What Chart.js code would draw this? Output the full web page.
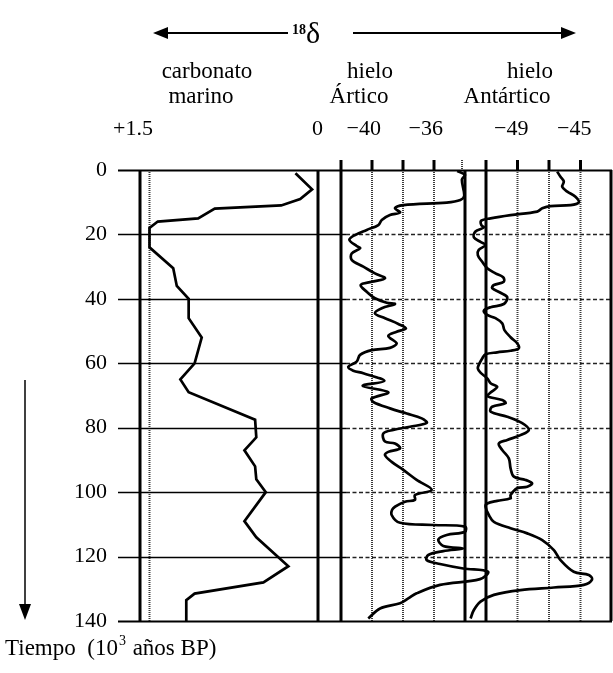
<!DOCTYPE html>
<html>
<head>
<meta charset="utf-8">
<script src="https://cdn.jsdelivr.net/npm/chart.js@4.4.1/dist/chart.umd.min.js"></script>
<style>
  html, body { margin: 0; padding: 0; background: #fff; }
  #wrap { width: 613px; height: 673px; position: relative; }
</style>
</head>
<body>
<div id="wrap"><canvas id="deltaChart"></canvas></div>
<script>
// time axis (10^3 years BP)
const timeTicks = [0, 20, 40, 60, 80, 100, 120, 140];

// marine carbonate d18O
const carbTime  = [1, 6, 9, 11, 12, 15, 16, 18, 24, 30.5, 36, 40, 46, 52, 60, 65, 69, 77.5, 83, 87, 92, 96, 100, 109, 114, 123, 128, 131.5, 133.5, 140];
const carbValue = [0.19, 0.05, 0.15, 0.31, 0.87, 1.01, 1.35, 1.42, 1.42, 1.22, 1.19, 1.09, 1.09, 0.98, 1.04, 1.16, 1.09, 0.53, 0.52, 0.62, 0.53, 0.52, 0.44, 0.62, 0.52, 0.25, 0.46, 1.04, 1.11, 1.11];
const carbRef = 1.42;

// arctic ice d18O
const arcTime  = [0.3, 1.5, 3, 8, 9.3, 10.1, 10.9, 11.9, 13.2, 14, 15.5, 17.1, 18.6, 20.2, 21.7, 23.6, 24.3, 25.9, 27.9, 30, 32.1, 33.6, 34.7, 35.7, 37.8, 39.8, 41.2, 41.6, 42.9, 44.5, 46, 47.8, 49.2, 50.2, 51.5, 53.8, 55.2, 55.9, 57.4, 59.5, 61.1, 62.3, 63.1, 65.5, 67, 69, 70.9, 72, 74, 75.6, 77.1, 78.5, 79.7, 80.7, 81.8, 84.3, 84.9, 86.4, 87.5, 88.5, 90.6, 93.1, 96.2, 99.3, 100.9, 102.4, 103, 105, 107.1, 109.5, 110.2, 110.7, 112.3, 113.3, 114.7, 116.7, 117.5, 118.3, 119.5, 121.1, 122.3, 123.7, 124.7, 127, 128.8, 131.4, 133, 134.5, 136.1, 139.2];
const arcValue = [-34.5, -34.0, -34.2, -34.05, -34.3, -35.18, -37.98, -38.52, -38.19, -38.84, -39.37, -39.59, -40.34, -41.1, -41.46, -40.99, -40.77, -41.31, -41.31, -40.56, -39.81, -39.16, -40.02, -40.73, -40.34, -39.81, -39.05, -38.52, -39.37, -39.81, -39.16, -38.3, -37.81, -38.41, -38.95, -38.41, -38.84, -40.02, -40.77, -40.99, -41.53, -41.21, -40.56, -39.2, -40.6, -38.95, -40.02, -39.92, -38.84, -37.76, -36.79, -36.47, -37.55, -38.63, -39.27, -39.16, -38.52, -38.19, -38.95, -39.16, -38.73, -37.98, -37.12, -36.15, -37.23, -37.23, -37.87, -38.63, -38.73, -38.19, -36.05, -34.0, -34.0, -35.18, -35.72, -35.4, -34.11, -35.4, -36.37, -36.47, -35.61, -34.11, -32.52, -33.03, -35.61, -37.12, -37.66, -38.19, -39.48, -40.24];

// antarctic ice d18O
const antTime  = [0.5, 2.1, 3.6, 5.2, 6.7, 8.3, 10.1, 10.9, 11.2, 11.9, 12.9, 14, 15, 15.7, 17.1, 17.8, 19.1, 20.9, 22.3, 23.3, 24.8, 26.4, 28.5, 30.5, 32.1, 33.3, 34.7, 35.7, 36.7, 38.1, 39.5, 41.6, 42.6, 43.7, 45, 46, 47.6, 49.7, 51.9, 53.8, 55.4, 56.1, 56.6, 57.2, 58.5, 60.5, 61.6, 62.9, 64.7, 66.2, 67.3, 69.1, 70.2, 71.4, 72.4, 73.5, 75, 76.6, 78.6, 80.7, 82.3, 83.8, 84.9, 86.9, 89.5, 92.6, 95.2, 96.2, 97.3, 98.3, 98.8, 100.9, 101.9, 102.7, 103.5, 104.5, 107.1, 109.2, 111.2, 112.8, 114.9, 118, 121.1, 124.7, 125.7, 127.1, 128.8, 129.6, 130.4, 131.9, 134, 136.6, 139.2];
const antValue = [-46.48, -46.27, -46.06, -46.16, -45.84, -45.32, -45.11, -45.63, -46.9, -47.43, -47.75, -49.44, -50.71, -51.3, -51.3, -51.14, -51.67, -51.77, -51.35, -51.03, -51.46, -51.52, -51.24, -50.92, -50.4, -49.91, -49.87, -50.5, -50.61, -50.08, -49.65, -49.87, -50.71, -51.14, -50.92, -50.4, -49.97, -49.83, -49.44, -49.02, -48.92, -49.44, -50.29, -51.03, -51.24, -51.46, -51.52, -51.35, -50.92, -50.71, -50.29, -50.71, -50.92, -49.97, -49.76, -50.61, -50.71, -49.65, -48.7, -48.28, -48.81, -49.65, -50.19, -49.97, -49.55, -49.44, -49.23, -48.49, -48.07, -48.38, -49.02, -49.44, -49.44, -50.29, -50.92, -51.03, -50.82, -50.5, -49.44, -48.38, -47.43, -46.69, -46.27, -45.43, -44.47, -44.26, -44.79, -46.69, -48.81, -50.5, -51.35, -51.77, -51.98];

// panel frames and ticks (axis units)
const carbFrame = [1.5, 0];
const arcFrame = [-42, -34];
const arcTicks = [-40, -38, -36];
const antFrame = [-51, -43];
const antTicks = [-49, -47, -45];
const carbLabels = ['+1.5', '0'];
const arcLabels = ['−40', '−36'];
const antLabels = ['−49', '−45'];

function pts(ts, vs) {
    return ts.map((t, i) => ({x: vs[i], y: t}));
}

const serif = "'Liberation Serif', 'Times New Roman', serif";

const decor = {
    id: 'decor',
    beforeDatasetsDraw(chart) {
        const ctx = chart.ctx;
        const a = chart.chartArea;
        const y = chart.scales.y, xc = chart.scales.xc, xa = chart.scales.xa, xn = chart.scales.xn;
        const top = y.getPixelForValue(0), bot = y.getPixelForValue(140);
        function seg(x1, y1, x2, y2) {
            ctx.beginPath(); ctx.moveTo(x1, y1); ctx.lineTo(x2, y2); ctx.stroke();
        }
        ctx.save();

        // dotted lines inside the panels
        ctx.strokeStyle = '#3a3a3a';
        ctx.lineWidth = 2;
        ctx.setLineDash([1, 1]);
        seg(xc.getPixelForValue(carbRef), top, xc.getPixelForValue(carbRef), bot);
        arcTicks.forEach(v => seg(xa.getPixelForValue(v), top, xa.getPixelForValue(v), bot));
        antTicks.forEach(v => seg(xn.getPixelForValue(v), top, xn.getPixelForValue(v), bot));
        seg(xa.getPixelForValue(arcFrame[1]) - 3, top - 10, xa.getPixelForValue(arcFrame[1]) - 3, top);

        // horizontal time lines
        const split = xa.getPixelForValue(arcFrame[0]) + 5;
        timeTicks.forEach(t => {
            const py = Math.round(y.getPixelForValue(t)) + 0.5;
            ctx.setLineDash([]);
            ctx.strokeStyle = '#000';
            if (t === 0 || t === 140) {
                ctx.lineWidth = 2;
                seg(a.left, py, a.right, py);
                return;
            }
            ctx.lineWidth = 1.3;
            seg(a.left, py, split, py);
            ctx.setLineDash([4, 2.5]);
            ctx.strokeStyle = '#222';
            seg(split, py, a.right, py);
        });

        // thick panel borders and ticks
        ctx.setLineDash([]);
        ctx.strokeStyle = '#000';
        ctx.lineWidth = 3;
        carbFrame.forEach(v => seg(xc.getPixelForValue(v), top, xc.getPixelForValue(v), bot));
        seg(xa.getPixelForValue(arcFrame[0]), top - 10, xa.getPixelForValue(arcFrame[0]), bot);
        seg(xa.getPixelForValue(arcFrame[1]), top, xa.getPixelForValue(arcFrame[1]), bot);
        seg(xn.getPixelForValue(antFrame[0]), top - 10, xn.getPixelForValue(antFrame[0]), bot);
        seg(xn.getPixelForValue(antFrame[1]) - 1, top, xn.getPixelForValue(antFrame[1]) - 1, bot);
        arcTicks.forEach(v => seg(xa.getPixelForValue(v), top - 10, xa.getPixelForValue(v), top));
        antTicks.forEach(v => seg(xn.getPixelForValue(v), top - 10, xn.getPixelForValue(v), top));
        ctx.restore();
    },
    afterDraw(chart) {
        const ctx = chart.ctx;
        const xc = chart.scales.xc, xa = chart.scales.xa, xn = chart.scales.xn;
        ctx.save();
        ctx.fillStyle = '#000';
        ctx.strokeStyle = '#000';
        ctx.textBaseline = 'alphabetic';

        // delta header with arrows
        ctx.lineWidth = 2;
        ctx.beginPath(); ctx.moveTo(165, 33); ctx.lineTo(288, 33); ctx.stroke();
        ctx.beginPath(); ctx.moveTo(353, 33); ctx.lineTo(563, 33); ctx.stroke();
        ctx.beginPath(); ctx.moveTo(153, 33); ctx.lineTo(168, 27); ctx.lineTo(168, 39); ctx.closePath(); ctx.fill();
        ctx.beginPath(); ctx.moveTo(576, 33); ctx.lineTo(561, 27); ctx.lineTo(561, 39); ctx.closePath(); ctx.fill();
        ctx.textAlign = 'left';
        ctx.font = 'bold 14px ' + serif;
        ctx.fillText('18', 292, 34);
        ctx.font = '30px ' + serif;
        ctx.fillText('δ', 306, 43);

        // panel titles
        ctx.font = '23px ' + serif;
        ctx.textAlign = 'center';
        ctx.fillText('carbonato', 207, 78);
        ctx.fillText('marino', 201, 103);
        ctx.fillText('hielo', 370, 78);
        ctx.fillText('Ártico', 359, 103);
        ctx.fillText('hielo', 530, 78);
        ctx.fillText('Antártico', 507, 103);

        // scale values
        ctx.font = '22px ' + serif;
        ctx.textAlign = 'right';
        carbFrame.forEach((v, i) => ctx.fillText(carbLabels[i], xc.getPixelForValue(v) + (i === 0 ? 13 : 5), 135));
        [arcTicks[0], arcTicks[2]].forEach((v, i) => ctx.fillText(arcLabels[i], xa.getPixelForValue(v) + 9, 135));
        [antTicks[0], antTicks[2]].forEach((v, i) => ctx.fillText(antLabels[i], xn.getPixelForValue(v) + 11, 135));

        // time arrow and axis title
        ctx.lineWidth = 1.5;
        ctx.beginPath(); ctx.moveTo(25, 380); ctx.lineTo(25, 606); ctx.stroke();
        ctx.beginPath(); ctx.moveTo(25, 620); ctx.lineTo(19, 604); ctx.lineTo(31, 604); ctx.closePath(); ctx.fill();
        ctx.textAlign = 'left';
        ctx.font = '23px ' + serif;
        let tx = 5;
        ctx.fillText('Tiempo  (10', tx, 655);
        tx += ctx.measureText('Tiempo  (10').width;
        ctx.font = '14px ' + serif;
        ctx.fillText('3', tx + 1, 645);
        tx += ctx.measureText('3').width + 2;
        ctx.font = '23px ' + serif;
        ctx.fillText(' años BP)', tx, 655);
        ctx.restore();
    }
};

const lineStyle = {
    showLine: true,
    pointRadius: 0,
    borderColor: '#000',
    backgroundColor: '#000',
    borderWidth: 2.7,
    fill: false
};

new Chart('deltaChart', {
    type: 'scatter',
    data: {
        datasets: [
            Object.assign({label: 'carbonato marino', data: pts(carbTime, carbValue), xAxisID: 'xc', yAxisID: 'y', tension: 0}, lineStyle),
            Object.assign({label: 'hielo Ártico', data: pts(arcTime, arcValue), xAxisID: 'xa', yAxisID: 'y', tension: 0.35}, lineStyle),
            Object.assign({label: 'hielo Antártico', data: pts(antTime, antValue), xAxisID: 'xn', yAxisID: 'y', tension: 0.35}, lineStyle)
        ]
    },
    options: {
        responsive: true,
        maintainAspectRatio: false,
        animation: false,
        layout: {padding: {top: 170, right: 1, bottom: 52, left: 0}},
        plugins: {
            legend: {display: false},
            tooltip: {enabled: false}
        },
        scales: {
            xc: {type: 'linear', display: false, reverse: true, min: -2.4775, max: 1.6854},
            xa: {type: 'linear', display: false, min: -56.387, max: -24.516},
            xn: {type: 'linear', display: false, min: -74.365, max: -43},
            y: {
                type: 'linear',
                position: 'left',
                reverse: true,
                min: 0,
                max: 140,
                afterFit(scale) { scale.width = 118; },
                afterBuildTicks(scale) { scale.ticks = timeTicks.map(v => ({value: v})); },
                ticks: {
                    autoSkip: false,
                    padding: 11,
                    color: '#000',
                    font: {family: serif, size: 22}
                },
                grid: {display: false, drawTicks: false},
                border: {display: false}
            }
        }
    },
    plugins: [decor]
});
</script>
</body>
</html>
